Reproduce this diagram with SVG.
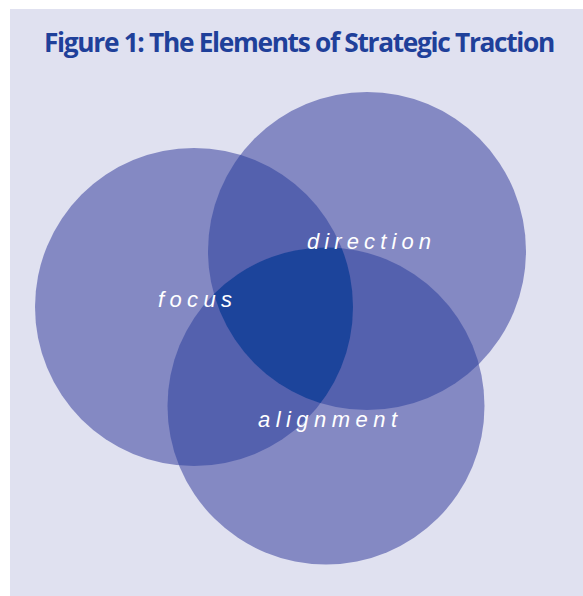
<svg xmlns="http://www.w3.org/2000/svg" width="583" height="596" viewBox="0 0 583 596">
  <style>
    .title { font-family: "Open Sans", "Noto Sans", sans-serif; font-weight: 700; font-size: 26px; letter-spacing: -1.3px; fill: #1f409a; }
    .label { font-family: "Liberation Sans", Arial, sans-serif; font-style: italic; font-weight: 400; font-size: 22px; fill: #ffffff; }
    .one { fill: #8489c3; }
    .two { fill: #5461ae; }
    .three { fill: #1c449b; }
  </style>
  <defs>
    <circle id="c-focus" cx="194" cy="307" r="159"/>
    <circle id="c-direction" cx="367" cy="251" r="159"/>
    <circle id="c-alignment" cx="326" cy="406" r="158.5"/>
    <clipPath id="clip-focus"><use href="#c-focus"/></clipPath>
    <clipPath id="clip-direction"><use href="#c-direction"/></clipPath>
    <clipPath id="clip-alignment"><use href="#c-alignment"/></clipPath>
  </defs>

  <rect x="0" y="0" width="583" height="596" fill="#ffffff"/>
  <rect x="10" y="9" width="573" height="587" fill="#e0e1f0"/>

  <text class="title" x="44" y="52" textLength="510" lengthAdjust="spacingAndGlyphs">Figure 1: The Elements of Strategic Traction</text>

  <!-- single-circle areas -->
  <g id="focus">
    <use href="#c-focus" class="one"/>
  </g>
  <g id="direction">
    <use href="#c-direction" class="one"/>
  </g>
  <g id="alignment">
    <use href="#c-alignment" class="one"/>
  </g>

  <!-- pairwise overlaps -->
  <g id="overlaps">
    <g clip-path="url(#clip-focus)"><use href="#c-direction" class="two"/></g>
    <g clip-path="url(#clip-focus)"><use href="#c-alignment" class="two"/></g>
    <g clip-path="url(#clip-direction)"><use href="#c-alignment" class="two"/></g>
    <!-- centre where all three meet -->
    <g clip-path="url(#clip-focus)">
      <g clip-path="url(#clip-direction)"><use href="#c-alignment" class="three"/></g>
    </g>
  </g>

  <g id="labels">
    <text class="label" x="158" y="307" textLength="74" lengthAdjust="spacing">focus</text>
    <text class="label" x="307" y="249" textLength="124" lengthAdjust="spacing">direction</text>
    <text class="label" x="258" y="427" textLength="139" lengthAdjust="spacing">alignment</text>
  </g>
</svg>
